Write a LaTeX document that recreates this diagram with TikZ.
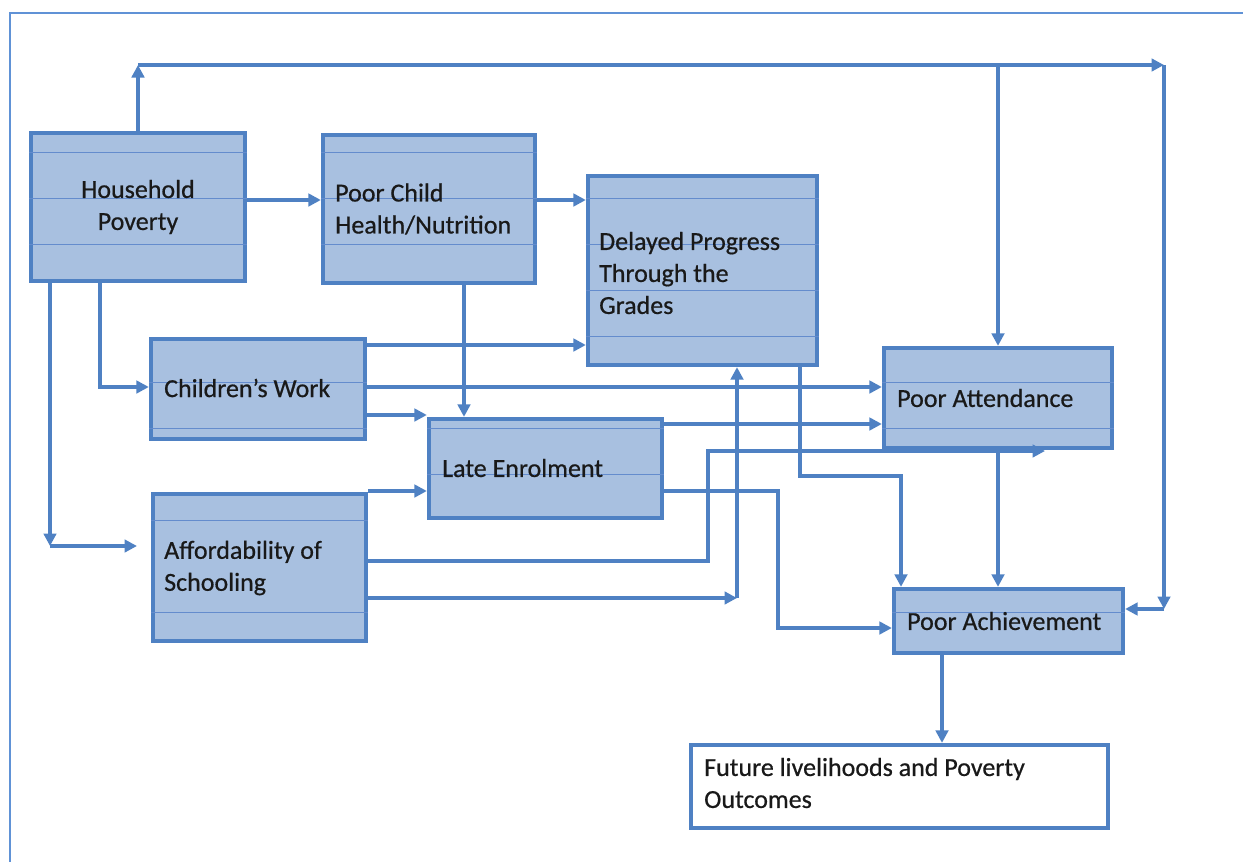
\documentclass[tikz,border=0pt]{standalone}
\usepackage{fontspec}
\setmainfont{Carlito}
\newfontfamily\lblfont{Carlito}[BoldFont=Carlito, BoldFeatures={FakeBold=0.6}]
\usetikzlibrary{arrows.meta}
\definecolor{edgec}{RGB}{79,129,195}
\definecolor{boxfill}{RGB}{168,192,224}
\definecolor{rulec}{RGB}{100,140,205}
\definecolor{framec}{RGB}{96,146,214}
\begin{document}
\begin{tikzpicture}[x=1pt,y=-1pt,
  box/.style={draw=edgec, line width=4.3pt, fill=boxfill, inner sep=0pt},
  wbox/.style={draw=edgec, line width=4.3pt, fill=white, inner sep=0pt},
  rule/.style={draw=rulec, line width=0.8pt},
  lbl/.style={inner sep=0pt, font=\lblfont\bfseries\fontsize{26}{32}\selectfont, text=black!90},
  arr/.style={draw=edgec, line width=3.6pt, -{Triangle[length=12.5pt,width=12.5pt]}}]
\useasboundingbox (0,0) rectangle (1243,862);
\draw[framec, line width=2.4pt] (10,862) -- (10,13) -- (1243,13);

% boxes
\node[box, minimum width=214pt, minimum height=148pt] (hp) at (138,207) {};
\node[box, minimum width=212pt, minimum height=148pt] (pc) at (429,209) {};
\node[box, minimum width=229pt, minimum height=189pt] (dp) at (702.5,270.5) {};
\node[box, minimum width=214pt, minimum height=100pt] (cw) at (258,389) {};
\node[box, minimum width=213pt, minimum height=147pt] (af) at (259.5,567.5) {};
\node[box, minimum width=233pt, minimum height=99pt] (le) at (545.5,468.5) {};
\node[box, minimum width=228pt, minimum height=100pt] (pat) at (998,398) {};
\node[box, minimum width=229pt, minimum height=64pt] (pa) at (1008.5,621) {};
\node[wbox, minimum width=417pt, minimum height=83pt] (fu) at (899.5,786.5) {};

% faint ruled lines inside boxes
\foreach \yy in {152,198,244} {
  \draw[rule] (hp.west |- 0,\yy) -- (hp.east |- 0,\yy);
  \draw[rule] (pc.west |- 0,\yy) -- (pc.east |- 0,\yy);
}
\foreach \yy in {198,244,290,336} {
  \draw[rule] (dp.west |- 0,\yy) -- (dp.east |- 0,\yy);
}
\foreach \yy in {382,428} {
  \draw[rule] (cw.west |- 0,\yy) -- (cw.east |- 0,\yy);
  \draw[rule] (pat.west |- 0,\yy) -- (pat.east |- 0,\yy);
}
\foreach \yy in {428,474} {
  \draw[rule] (le.west |- 0,\yy) -- (le.east |- 0,\yy);
}
\foreach \yy in {520,612} {
  \draw[rule] (af.west |- 0,\yy) -- (af.east |- 0,\yy);
}
\draw[rule] (pa.west |- 0,612) -- (pa.east |- 0,612);

% labels
\node[lbl, align=center] (thp) at (138,207) {Household\\Poverty};
\node[lbl, align=left, anchor=west] (tpc) at (335,209) {Poor Child\\Health/Nutrition};
\node[lbl, align=left, anchor=west] (tdp) at (599,273) {Delayed Progress\\Through the\\Grades};
\node[lbl, anchor=west] (tcw) at (164,388) {Children’s Work};
\node[lbl, align=left, anchor=west] (taf) at (164,568) {Affordability of\\Schooling};
\node[lbl, anchor=west] (tle) at (442,468) {Late Enrolment};
\node[lbl, anchor=west] (tpat) at (897,398) {Poor Attendance};
\node[lbl, anchor=west] (tpa) at (907,621) {Poor Achievement};
\node[lbl, align=left, anchor=west] (tfu) at (704,783) {Future livelihoods and Poverty\\Outcomes};

% junction coordinates
\coordinate (tl) at (138,65);
\coordinate (tr) at (1164,65);
\coordinate (br) at (1164,609);
\coordinate (afc) at (50,546);
\coordinate (afe) at (137,546);
\coordinate (k1) at (708,451);
\coordinate (k1e) at (1045,451);
\coordinate (k2) at (737,598);
\coordinate (k3) at (901,476);
\coordinate (k4) at (778,628);

% connectors
\draw[arr] (hp.north) -- (tl);
\draw[arr] (tl) -- (tr);
\draw[arr] (tr) -- (br);
\draw[arr] (br) -- (pa.east |- br);
\draw[arr] (tr -| pat.north) -- (pat.north);

\draw[arr] (hp.east |- 0,200) -- (pc.west |- 0,200);
\draw[arr] (pc.east |- 0,200) -- (dp.west |- 0,200);
\draw[arr] (hp.south -| 100,0) |- (cw.west |- 0,387);
\draw[arr] (hp.south -| 50,0) -- (afc);
\draw[arr] (afc) -- (afe);

\draw[arr] (cw.east |- 0,345) -- (dp.west |- 0,345);
\draw[arr] (cw.east |- 0,387) -- (pat.west |- 0,387);
\draw[arr] (cw.east |- 0,415) -- (le.west |- 0,415);
\draw[arr] (pc.south -| 464,0) -- (le.north -| 464,0);

\draw[arr] (af.east |- 0,491) -- (le.west |- 0,491);
\draw[arr] (le.east |- 0,424) -- (pat.west |- 0,424);
\draw[arr] (af.east |- 0,561) -| (k1) -- (k1e);
\draw[arr] (af.east |- 0,598) -- (k2);
\draw[arr] (k2) -- (dp.south -| k2);

\draw[arr] (dp.south -| 800,0) |- (k3) -- (pa.north -| k3);
\draw[arr] (le.east |- 0,491) -| (k4) -- (pa.west |- k4);
\draw[arr] (pat.south) -- (pa.north -| pat.south);
\draw[arr] (pa.south -| 942,0) -- (fu.north -| 942,0);
\end{tikzpicture}
\end{document}
